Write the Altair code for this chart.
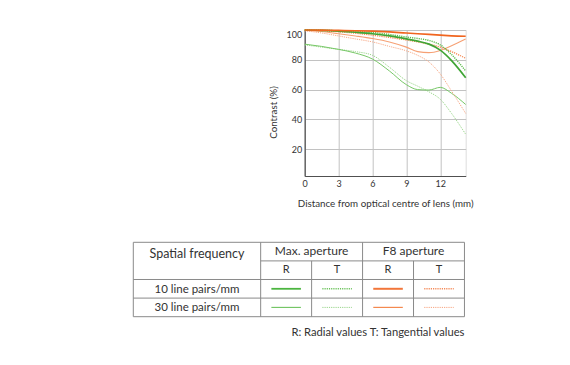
import altair as alt
import pandas as pd

# ---------------- MTF data ----------------
X = [0, 1.5, 3, 4.5, 6, 7.5, 9, 10, 11, 12, 13, 14.25]
G10R = [100, 99.8, 99.3, 98.5, 97.5, 96.0, 94.0, 92.5, 90.5, 86.5, 79.5, 68.0]
G10T = [100, 99.8, 99.5, 99.0, 98.3, 97.0, 95.3, 94.3, 93.0, 90.0, 83.5, 72.5]
G30R = [90.5, 89.0, 87.0, 84.5, 80.5, 72.5, 63.3, 60.0, 59.7, 61.5, 57.5, 50.0]
G30T = [90.0, 88.5, 87.0, 85.5, 83.0, 75.0, 66.0, 62.3, 58.5, 53.5, 44.0, 30.0]
O10R = [100, 99.9, 99.7, 99.5, 99.2, 98.7, 98.0, 97.5, 97.0, 96.5, 96.1, 95.8]
O10T = [100, 99.5, 98.8, 97.8, 96.5, 95.0, 93.3, 92.0, 90.5, 88.5, 85.5, 81.0]
O30R = [99.7, 99.0, 97.5, 96.0, 94.3, 92.0, 88.5, 85.5, 84.8, 86.3, 89.5, 94.0]
O30T = [99.5, 98.0, 96.0, 94.0, 92.0, 89.0, 86.0, 83.0, 78.5, 70.5, 59.0, 44.0]

X_TICKS = [0, 3, 6, 9, 12]
Y_TICKS = [20, 40, 60, 80, 100]
X_MAX = 14.25
Y_MIN = 2
W, H = 161, 146

FONT = "Lato"
TXT = "#333333"

styles = [
    ("G30T", G30T, "#9bd68c", 1.0, [1.2, 1.0]),
    ("G30R", G30R, "#76c766", 1.0, None),
    ("O30T", O30T, "#f7aa88", 1.0, [1.2, 1.0]),
    ("O30R", O30R, "#f6a074", 1.1, None),
    ("O10T", O10T, "#f4874f", 1.3, [1.2, 1.0]),
    ("G10T", G10T, "#5cbc4c", 1.4, [1.2, 1.0]),
    ("G10R", G10R, "#3fa535", 1.7, None),
    ("O10R", O10R, "#f0651f", 1.7, None),
]

xscale = alt.Scale(domain=[0, X_MAX], nice=False, zero=False)
yscale = alt.Scale(domain=[Y_MIN, 100], nice=False, zero=False)

common_axis = dict(grid=True, gridColor="#c2c2c2", gridWidth=1, ticks=False,
                   domainColor="#505050", domainWidth=1.2,
                   labelFont=FONT, labelFontSize=9, labelColor=TXT,
                   titleFont=FONT, titleFontSize=9.8, titleColor=TXT,
                   titleFontWeight="normal")
xaxis = alt.Axis(values=X_TICKS, title="Distance from optical centre of lens (mm)",
                 labelPadding=4, labelFlush=False,
                 titleY=27.5, titleBaseline="middle", **common_axis)
yaxis = alt.Axis(values=Y_TICKS, title="Contrast (%)",
                 labelPadding=3, labelFlush=True, titleAngle=270,
                 titleX=-31.5, titleY=82, titleBaseline="middle", **common_axis)

line_layers = []
for name, vals, color, w, dash in styles:
    df = pd.DataFrame({"x": X, "y": vals})
    kw = dict(color=color, strokeWidth=w, interpolate="monotone")
    if dash:
        kw["strokeDash"] = dash
    line_layers.append(alt.Chart(df).mark_line(**kw).encode(
        x=alt.X("x:Q", scale=xscale, axis=xaxis),
        y=alt.Y("y:Q", scale=yscale, axis=yaxis),
    ))

# ---------------- Table (column / row units) ----------------
# table frame in pixels relative to the plot's top-left corner
T_LEFT, T_COL = -171.4, 50.95     # column unit width
T_TOP, T_ROW = 212.3, 18.6        # row unit height


def cx(c):
    return (T_LEFT + c * T_COL) / W * X_MAX


def ry(r):
    return 100 - (T_TOP + r * T_ROW) / H * (100 - Y_MIN)


H_X0 = [0, 2.5, 0, 0, 0]
H_X1 = [6.5, 6.5, 6.5, 6.5, 6.5]
H_Y = [0, 1, 2, 3, 4]
V_X = [0, 2.5, 3.5, 4.5, 5.5, 6.5]
V_Y0 = [0, 0, 1, 0, 1, 0]
V_Y1 = [4, 4, 4, 4, 4, 4]

hlines = pd.DataFrame({"x": [cx(v) for v in H_X0], "x2": [cx(v) for v in H_X1],
                       "y": [ry(v) for v in H_Y]})
vlines = pd.DataFrame({"x": [cx(v) for v in V_X], "y": [ry(v) for v in V_Y0],
                       "y2": [ry(v) for v in V_Y1]})

GRID_C = "#8a8a8a"
h_rule = alt.Chart(hlines).mark_rule(color=GRID_C, strokeWidth=1).encode(
    x=alt.X("x:Q", scale=xscale, axis=xaxis), x2="x2:Q",
    y=alt.Y("y:Q", scale=yscale, axis=yaxis))
v_rule = alt.Chart(vlines).mark_rule(color=GRID_C, strokeWidth=1).encode(
    x=alt.X("x:Q", scale=xscale, axis=xaxis),
    y=alt.Y("y:Q", scale=yscale, axis=yaxis), y2="y2:Q")


def text_layer(texts, cols, rows, size, align="center"):
    df = pd.DataFrame({"t": texts, "x": [cx(v) for v in cols],
                       "y": [ry(v) for v in rows]})
    return alt.Chart(df).mark_text(font=FONT, fontSize=size, color=TXT,
                                   align=align, baseline="middle").encode(
        x=alt.X("x:Q", scale=xscale, axis=xaxis),
        y=alt.Y("y:Q", scale=yscale, axis=yaxis),
        text="t:N")


texts = [
    text_layer(["Spatial frequency"], [1.25], [0.65], 12.5),
    text_layer(["Max. aperture", "F8 aperture"], [3.5, 5.5], [0.48, 0.48], 12),
    text_layer(["R", "T", "R", "T"], [3.0, 4.0, 5.0, 6.0], [1.5] * 4, 11),
    text_layer(["10 line pairs/mm", "30 line pairs/mm"], [1.25, 1.25], [2.55, 3.55], 11.5),
    text_layer(["R: Radial values T: Tangential values"], [6.5], [4.85], 11.2, align="right"),
]

# legend line samples
sample_spec = [
    (3.0, 2.5, "#4cb540", 1.8, None),
    (4.0, 2.5, "#6cc35c", 1.5, [1.2, 1.0]),
    (5.0, 2.5, "#f2763a", 2.0, None),
    (6.0, 2.5, "#f48a58", 1.5, [1.2, 1.0]),
    (3.0, 3.5, "#6dc35e", 1.1, None),
    (4.0, 3.5, "#98d48a", 1.0, [1.2, 1.0]),
    (5.0, 3.5, "#f4894f", 1.2, None),
    (6.0, 3.5, "#f6a47f", 1.0, [1.2, 1.0]),
]
sample_layers = []
for c, r, color, w, dash in sample_spec:
    df = pd.DataFrame({"x": [cx(c - 0.29)], "x2": [cx(c + 0.29)], "y": [ry(r)]})
    kw = dict(color=color, strokeWidth=w)
    if dash:
        kw["strokeDash"] = dash
    sample_layers.append(alt.Chart(df).mark_rule(**kw).encode(
        x=alt.X("x:Q", scale=xscale, axis=xaxis), x2="x2:Q",
        y=alt.Y("y:Q", scale=yscale, axis=yaxis)))

chart = alt.layer(*line_layers, h_rule, v_rule, *texts, *sample_layers).properties(
    width=W, height=H,
    autosize=alt.AutoSizeParams(type="none"),
    padding={"left": 296.7, "top": 22, "right": 95, "bottom": 180},
).configure_view(stroke="#5a5a5a", strokeWidth=1).configure(background="white")

chart.save("out.html", embed_options={"renderer": "svg", "actions": False})
